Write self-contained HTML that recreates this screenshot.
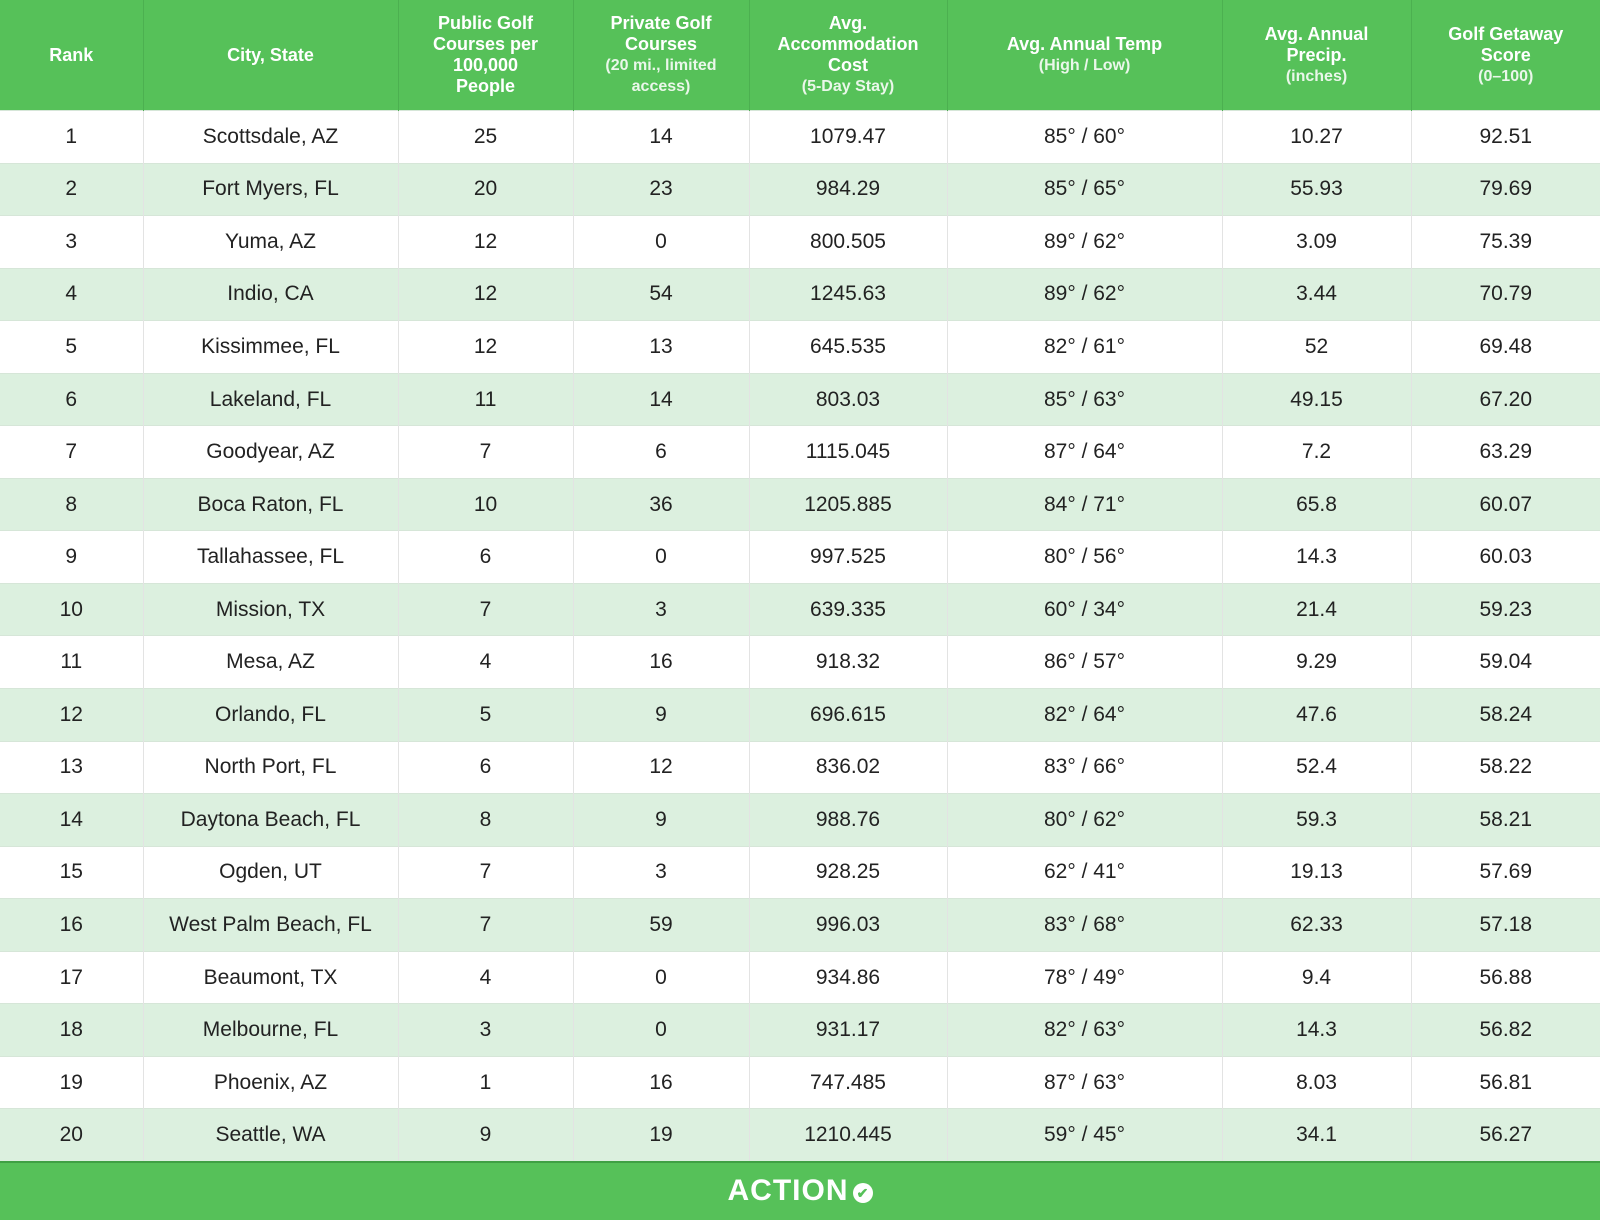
<!DOCTYPE html>
<html><head><meta charset="utf-8"><style>
body{margin:0;width:1600px;height:1220px;overflow:hidden;background:#fff;font-family:"Liberation Sans",sans-serif;}
table{border-collapse:collapse;width:1600px;table-layout:fixed;}
th{background:#56c159;color:#fff;font-weight:bold;font-size:18px;line-height:21px;height:110px;padding:0 4px;border-right:1px solid #4cb050;vertical-align:middle;white-space:nowrap;}
th small{display:block;font-size:16px;font-weight:bold;line-height:21px;color:#eaf7ea;}
td{height:51.55px;padding:0;text-align:center;font-size:21px;color:#222;border-right:1px solid #e3e3e3;border-top:1px solid #d6e6d8;}
tr:nth-child(odd) td{background:#dcf0df;}
th:last-child,td:last-child{border-right:none;}
.foot{position:absolute;left:0;top:1161px;width:1600px;height:59px;background:#56c159;border-top:2px solid #3fa044;box-sizing:border-box;color:#fff;font-weight:900;font-size:30px;text-align:center;line-height:56px;letter-spacing:1px;}
.chk{display:inline-block;width:20px;height:20px;border-radius:50%;background:#fff;color:#56c159;font-size:14px;line-height:20px;vertical-align:2px;margin-left:4px;letter-spacing:0;}
</style></head><body>
<table>
<colgroup><col style="width:143px"><col style="width:255px"><col style="width:175px"><col style="width:176px"><col style="width:198px"><col style="width:275px"><col style="width:189px"><col style="width:189px"></colgroup>
<tr><th>Rank</th><th>City, State</th><th>Public Golf<br>Courses per<br>100,000<br>People</th><th>Private Golf<br>Courses<small>(20 mi., limited<br>access)</small></th><th>Avg.<br>Accommodation<br>Cost<small>(5-Day Stay)</small></th><th>Avg. Annual Temp<small>(High / Low)</small></th><th>Avg. Annual<br>Precip.<small>(inches)</small></th><th>Golf Getaway<br>Score<small>(0–100)</small></th></tr>
<tr><td>1</td><td>Scottsdale, AZ</td><td>25</td><td>14</td><td>1079.47</td><td>85° / 60°</td><td>10.27</td><td>92.51</td></tr>
<tr><td>2</td><td>Fort Myers, FL</td><td>20</td><td>23</td><td>984.29</td><td>85° / 65°</td><td>55.93</td><td>79.69</td></tr>
<tr><td>3</td><td>Yuma, AZ</td><td>12</td><td>0</td><td>800.505</td><td>89° / 62°</td><td>3.09</td><td>75.39</td></tr>
<tr><td>4</td><td>Indio, CA</td><td>12</td><td>54</td><td>1245.63</td><td>89° / 62°</td><td>3.44</td><td>70.79</td></tr>
<tr><td>5</td><td>Kissimmee, FL</td><td>12</td><td>13</td><td>645.535</td><td>82° / 61°</td><td>52</td><td>69.48</td></tr>
<tr><td>6</td><td>Lakeland, FL</td><td>11</td><td>14</td><td>803.03</td><td>85° / 63°</td><td>49.15</td><td>67.20</td></tr>
<tr><td>7</td><td>Goodyear, AZ</td><td>7</td><td>6</td><td>1115.045</td><td>87° / 64°</td><td>7.2</td><td>63.29</td></tr>
<tr><td>8</td><td>Boca Raton, FL</td><td>10</td><td>36</td><td>1205.885</td><td>84° / 71°</td><td>65.8</td><td>60.07</td></tr>
<tr><td>9</td><td>Tallahassee, FL</td><td>6</td><td>0</td><td>997.525</td><td>80° / 56°</td><td>14.3</td><td>60.03</td></tr>
<tr><td>10</td><td>Mission, TX</td><td>7</td><td>3</td><td>639.335</td><td>60° / 34°</td><td>21.4</td><td>59.23</td></tr>
<tr><td>11</td><td>Mesa, AZ</td><td>4</td><td>16</td><td>918.32</td><td>86° / 57°</td><td>9.29</td><td>59.04</td></tr>
<tr><td>12</td><td>Orlando, FL</td><td>5</td><td>9</td><td>696.615</td><td>82° / 64°</td><td>47.6</td><td>58.24</td></tr>
<tr><td>13</td><td>North Port, FL</td><td>6</td><td>12</td><td>836.02</td><td>83° / 66°</td><td>52.4</td><td>58.22</td></tr>
<tr><td>14</td><td>Daytona Beach, FL</td><td>8</td><td>9</td><td>988.76</td><td>80° / 62°</td><td>59.3</td><td>58.21</td></tr>
<tr><td>15</td><td>Ogden, UT</td><td>7</td><td>3</td><td>928.25</td><td>62° / 41°</td><td>19.13</td><td>57.69</td></tr>
<tr><td>16</td><td>West Palm Beach, FL</td><td>7</td><td>59</td><td>996.03</td><td>83° / 68°</td><td>62.33</td><td>57.18</td></tr>
<tr><td>17</td><td>Beaumont, TX</td><td>4</td><td>0</td><td>934.86</td><td>78° / 49°</td><td>9.4</td><td>56.88</td></tr>
<tr><td>18</td><td>Melbourne, FL</td><td>3</td><td>0</td><td>931.17</td><td>82° / 63°</td><td>14.3</td><td>56.82</td></tr>
<tr><td>19</td><td>Phoenix, AZ</td><td>1</td><td>16</td><td>747.485</td><td>87° / 63°</td><td>8.03</td><td>56.81</td></tr>
<tr><td>20</td><td>Seattle, WA</td><td>9</td><td>19</td><td>1210.445</td><td>59° / 45°</td><td>34.1</td><td>56.27</td></tr>
</table>
<div class="foot">ACTION<span class="chk">✔</span></div>
</body></html>
